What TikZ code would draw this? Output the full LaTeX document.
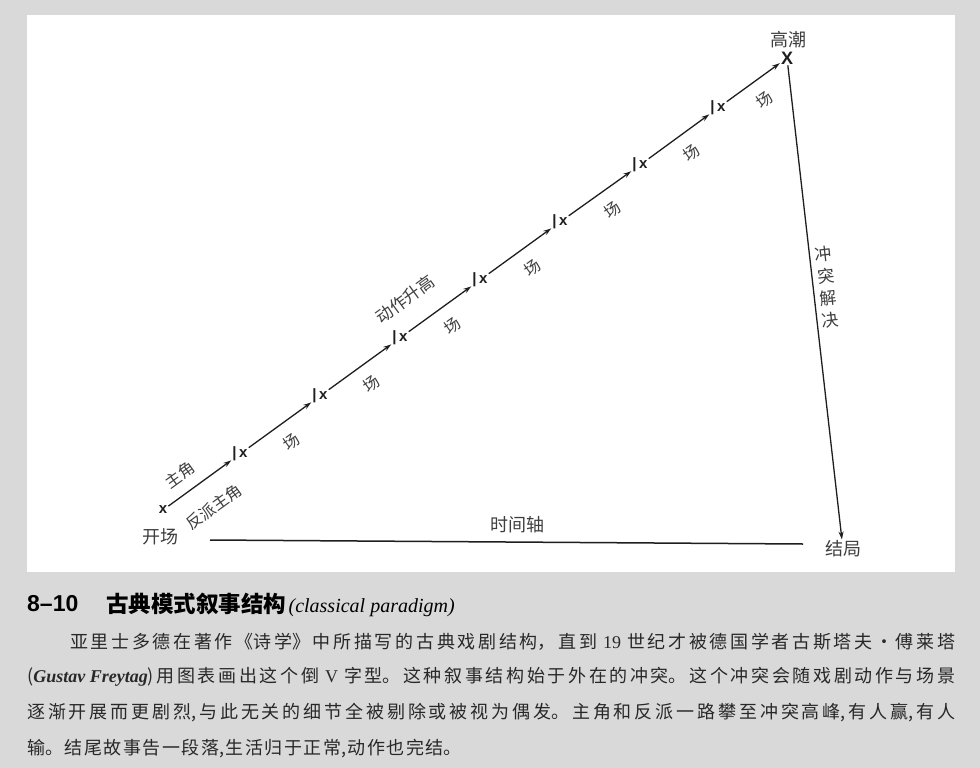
\documentclass[tikz,border=0pt]{standalone}
\usepackage{fontspec}
\setmainfont{Liberation Serif}
\setsansfont{Liberation Sans}
\newfontfamily\cjk{Noto Sans CJK SC}
\usetikzlibrary{arrows.meta}
\XeTeXlinebreaklocale "zh"
\XeTeXlinebreakskip=0pt plus 1pt
\definecolor{pagegray}{RGB}{217,217,217}
\definecolor{ink}{RGB}{30,30,30}
\definecolor{txt}{RGB}{62,62,62}
\definecolor{bodyc}{RGB}{40,40,40}
\newcommand{\justline}[2]{\parbox{#1}{\XeTeXlinebreakskip=1.5pt plus 20pt\parfillskip=0pt\noindent #2}}
\newcommand{\plainline}[2]{\parbox{#1}{\XeTeXlinebreakskip=1.5pt\noindent #2}}
\tikzset{
  lbl/.style={font=\cjk\fontsize{18}{18}\selectfont, text=txt, inner sep=1pt},
  along/.style={font=\cjk\fontsize{16}{16}\selectfont, text=txt, inner sep=0pt, rotate=36},
  markx/.style={font=\sffamily\bfseries\fontsize{15}{15}\selectfont, text=ink, inner sep=1pt},
  arr/.style={draw=ink, line width=1.3pt, -{Stealth[length=8pt,width=5pt]}},
  axisline/.style={draw=ink, line width=1.5pt},
  bodyline/.style={font=\cjk\fontsize{18}{20}\selectfont, text=bodyc, anchor=west, inner sep=0pt},
}
\begin{document}
\begin{tikzpicture}[x=1pt,y=1pt]
\useasboundingbox (0,0) rectangle (980,-768);
\fill[pagegray] (0,0) rectangle (980,-768);
\fill[white] (27,-15) rectangle (955,-572);

% marks along the rising line
\node[markx] (m0) at (163,-510) {x};
\node[markx] (m1) at (240,-454) {|\,x};
\node[markx] (m2) at (320,-396) {|\,x};
\node[markx] (m3) at (400,-338) {|\,x};
\node[markx] (m4) at (480,-280) {|\,x};
\node[markx] (m5) at (560,-222) {|\,x};
\node[markx] (m6) at (640,-165) {|\,x};
\node[markx] (m7) at (718,-108) {|\,x};
\node[markx, font=\sffamily\bfseries\fontsize{18}{18}\selectfont] (m8) at (787,-58) {X};

\foreach \a/\b in {m0/m1,m1/m2,m2/m3,m3/m4,m4/m5,m5/m6,m6/m7,m7/m8}
  \draw[arr] (\a) -- (\b);

% scene labels
\node[along] (c1) at (291,-442) {场};
\node[along] (c2) at (371,-384) {场};
\node[along] (c3) at (452,-326) {场};
\node[along] (c4) at (532,-268) {场};
\node[along] (c5) at (612,-210) {场};
\node[along] (c6) at (691,-153) {场};
\node[along] (c7) at (764,-100) {场};

\node[along] (zhu) at (180,-475) {主角};
\node[along] (fan) at (214,-507) {反派主角};
\node[along, font=\cjk\fontsize{17}{17}\selectfont] (rise) at (405,-299) {动作升高};

% labels
\node[lbl] (kai) at (160,-537) {开场};
\node[lbl] (gao) at (788,-40) {高潮};
\node[lbl] (jie) at (843,-549) {结局};
\node[lbl] (shi) at (517,-525) {时间轴};
\node[lbl, font=\cjk\fontsize{17}{22}\selectfont, align=center, rotate=6.4] (jue) at (827,-287) {冲\\突\\解\\决};

% falling line and time axis
\draw[arr] (m8) -- (jie);
\coordinate (t0) at (210,-540);
\coordinate (t1) at (803,-544);
\draw[axisline] (t0) -- (t1);

% caption
\node[anchor=west, inner sep=0pt, text=black] (num) at (27,-604)
  {\sffamily\bfseries\fontsize{23}{23}\selectfont 8–10};
\node[anchor=west, inner sep=0pt, text=black] (ttl) at (106,-604)
  {\cjk\bfseries\fontsize{22.5}{22.5}\selectfont 古典模式叙事结构};
\node[anchor=base west, inner sep=0pt, text=black] (eng) at ([xshift=2pt]ttl.base east)
  {\rmfamily\itshape\fontsize{20}{20}\selectfont (classical paradigm)};

\node[bodyline] (l1) at (70,-642)
  {\justline{885pt}{亚里士多德在著作《诗学》中所描写的古典戏剧结构，直到\hspace{6pt}{\rmfamily 19}\hspace{6pt}世纪才被德国学者古斯塔夫·傅莱塔}};
\node[bodyline] (l2) at (27,-677)
  {\justline{928pt}{({\rmfamily\bfseries\itshape Gustav Freytag})用图表画出这个倒\hspace{6pt}{\rmfamily V}\hspace{6pt}字型。这种叙事结构始于外在的冲突。这个冲突会随戏剧动作与场景}};
\node[bodyline] (l3) at (27,-713)
  {\justline{928pt}{逐渐开展而更剧烈,与此无关的细节全被剔除或被视为偶发。主角和反派一路攀至冲突高峰,有人赢,有人}};
\node[bodyline] (l4) at (27,-749)
  {\plainline{928pt}{输。结尾故事告一段落,生活归于正常,动作也完结。}};
\end{tikzpicture}
\end{document}
